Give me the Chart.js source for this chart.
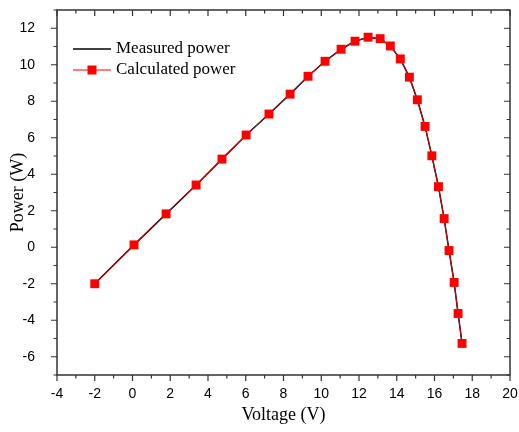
<!DOCTYPE html>
<html>
<head>
<meta charset="utf-8">
<script src="https://cdn.jsdelivr.net/npm/chart.js@4"></script>
<style>
  body { margin: 0; background: #fff; }
  canvas { display: block; }
</style>
</head>
<body>
<canvas id="myChart" width="519" height="432"></canvas>
<script>
// PV curve: voltage (V) against power (W)
const voltage = [-2.0, 0.08, 1.78, 3.37, 4.74, 6.02, 7.23, 8.35, 9.3, 10.2, 11.05, 11.79, 12.48,
  13.12, 13.66, 14.19, 14.67, 15.09, 15.5, 15.86, 16.21, 16.51, 16.77, 17.04, 17.25, 17.46];
const measuredPower = [-2.0, 0.13, 1.83, 3.41, 4.83, 6.15, 7.3, 8.39, 9.37, 10.19, 10.85, 11.29, 11.51,
  11.43, 11.03, 10.32, 9.32, 8.08, 6.62, 5.01, 3.32, 1.57, -0.18, -1.93, -3.63, -5.27];
const calculatedPower = [-2.0, 0.13, 1.83, 3.41, 4.83, 6.15, 7.3, 8.39, 9.37, 10.19, 10.85, 11.29, 11.51,
  11.43, 11.03, 10.32, 9.32, 8.08, 6.62, 5.01, 3.32, 1.57, -0.18, -1.93, -3.63, -5.27];

const xTicks = [-4, -2, 0, 2, 4, 6, 8, 10, 12, 14, 16, 18, 20];
const yTicks = [-6, -4, -2, 0, 2, 4, 6, 8, 10, 12];
const seriesNames = ["Measured power", "Calculated power"];

const toPoints = (xs, ys) => xs.map((x, i) => ({ x: x, y: ys[i] }));

// frame with ticks on all four sides + the legend box
const framePlugin = {
  id: "frame",
  afterDraw(chart) {
    const ctx = chart.ctx;
    const a = chart.chartArea;
    const sx = chart.scales.x;
    const sy = chart.scales.y;
    ctx.save();
    ctx.strokeStyle = "#333";
    ctx.lineWidth = 1.5;
    ctx.strokeRect(a.left, a.top, a.right - a.left, a.bottom - a.top);

    ctx.lineWidth = 1.2;
    ctx.beginPath();
    for (let v = sx.min; v <= sx.max; v++) {
      const px = sx.getPixelForValue(v);
      const len = v % 2 === 0 ? 6 : 3.5;
      ctx.moveTo(px, a.bottom); ctx.lineTo(px, a.bottom + len); // bottom, outward
      ctx.moveTo(px, a.top); ctx.lineTo(px, a.top + len); // top, inward
    }
    for (let v = sy.min; v <= sy.max; v++) {
      const py = sy.getPixelForValue(v);
      const len = v % 2 === 0 ? 6 : 3.5;
      ctx.moveTo(a.left, py); ctx.lineTo(a.left - len, py); // left, outward
      ctx.moveTo(a.right, py); ctx.lineTo(a.right - len, py); // right, inward
    }
    ctx.stroke();

    // legend
    const lx0 = 73, lx1 = 111, ly1 = 49, ly2 = 70;
    ctx.lineWidth = 1.5;
    ctx.strokeStyle = "#000";
    ctx.beginPath(); ctx.moveTo(lx0, ly1); ctx.lineTo(lx1, ly1); ctx.stroke();
    ctx.strokeStyle = "#ff0000";
    ctx.lineWidth = 1.2;
    ctx.beginPath(); ctx.moveTo(lx0, ly2); ctx.lineTo(lx1, ly2); ctx.stroke();
    ctx.fillStyle = "#ff0000";
    ctx.fillRect(92 - 4.5, ly2 - 4.5, 9, 9);
    ctx.fillStyle = "#000";
    ctx.font = '17px "Liberation Serif"';
    ctx.textBaseline = "middle";
    ctx.textAlign = "left";
    ctx.fillText(seriesNames[0], 116, ly1);
    ctx.fillText(seriesNames[1], 116, ly2);
    ctx.restore();
  },
};

const chart = new Chart(document.getElementById("myChart"), {
  type: "scatter",
  data: {
    datasets: [
      {
        label: seriesNames[0],
        data: toPoints(voltage, measuredPower),
        showLine: true,
        borderColor: "#000",
        borderWidth: 1.5,
        pointRadius: 0,
        order: 2,
      },
      {
        label: seriesNames[1],
        data: toPoints(voltage, calculatedPower),
        showLine: true,
        borderColor: "#e00000",
        borderWidth: 1,
        pointStyle: "rect",
        pointRadius: 6.3,
        pointBackgroundColor: "#ff0000",
        pointBorderWidth: 0,
        order: 1,
      },
    ],
  },
  options: {
    responsive: false,
    animation: false,
    devicePixelRatio: 1,
    layout: { padding: { top: 10, right: 9, left: 0, bottom: 0 } },
    plugins: {
      legend: { display: false },
      tooltip: { enabled: false },
    },
    scales: {
      x: {
        type: "linear",
        min: -4,
        max: 20,
        grid: { display: false },
        border: { display: false },
        afterBuildTicks: (s) => { s.ticks = xTicks.map((v) => ({ value: v })); },
        afterFit: (s) => { s.height = 57; s.paddingLeft = 0; s.paddingRight = 0; },
        ticks: {
          color: "#000",
          padding: 3,
          maxRotation: 0,
          autoSkip: false,
          font: { family: "Liberation Sans", size: 14 },
        },
        title: {
          display: true,
          text: "Voltage (V)",
          color: "#000",
          padding: { top: 0, bottom: 6 },
          font: { family: "Liberation Serif", size: 18 },
        },
      },
      y: {
        type: "linear",
        min: -7,
        max: 13,
        grid: { display: false },
        border: { display: false },
        afterBuildTicks: (s) => { s.ticks = yTicks.map((v) => ({ value: v })); },
        afterFit: (s) => { s.width = 57; s.paddingTop = 0; s.paddingBottom = 0; },
        ticks: {
          color: "#000",
          padding: 14,
          autoSkip: false,
          font: { family: "Liberation Sans", size: 14 },
        },
        title: {
          display: true,
          text: "Power (W)",
          color: "#000",
          padding: { top: 7, bottom: 0 },
          font: { family: "Liberation Serif", size: 18 },
        },
      },
    },
  },
  plugins: [framePlugin],
});
</script>
</body>
</html>
